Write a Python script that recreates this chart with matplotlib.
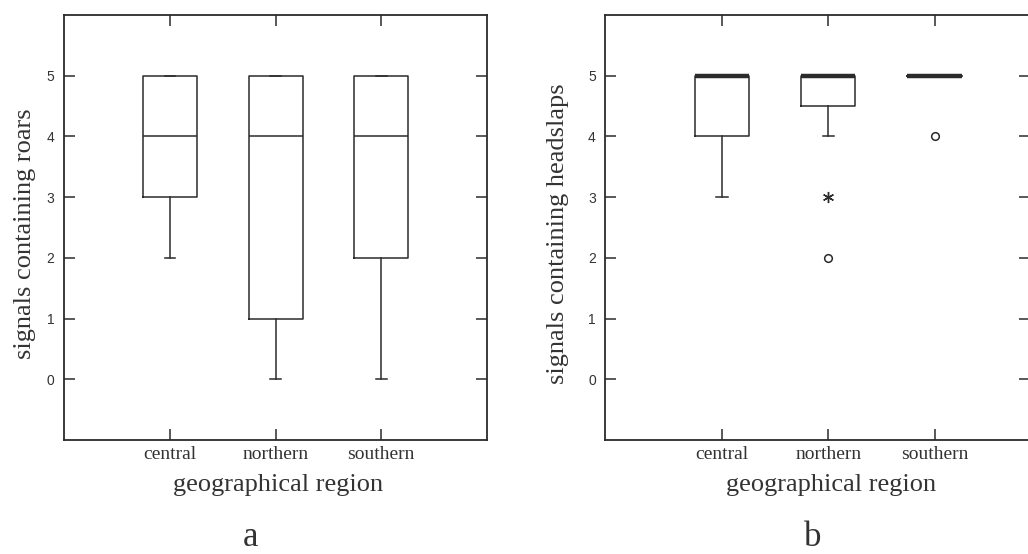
import matplotlib.pyplot as plt

regions = ['central', 'northern', 'southern']
positions = [1, 2, 3]

# panel a: signals containing roars
roars_whislo = [2, 0, 0]
roars_q1 = [3, 1, 2]
roars_med = [4, 4, 4]
roars_q3 = [5, 5, 5]
roars_whishi = [5, 5, 5]

# panel b: signals containing headslaps
slaps_whislo = [3, 4, 5]
slaps_q1 = [4, 4.5, 5]
slaps_med = [5, 5, 5]
slaps_q3 = [5, 5, 5]
slaps_whishi = [5, 5, 5]
slaps_outliers = [[], [2], [4]]
slaps_extremes = [[], [3], []]

ink = '#2b2b2b'
serif = ['Liberation Serif', 'DejaVu Serif']
sans = ['Liberation Sans', 'DejaVu Sans']


def make_stats(lo, q1, med, q3, hi):
    return [dict(whislo=a, q1=b, med=c, q3=d, whishi=e, fliers=[])
            for a, b, c, d, e in zip(lo, q1, med, q3, hi)]


def style_axes(ax, ylabel, xlim, label_x):
    ax.set_xlim(*xlim)
    ax.set_ylim(-1, 6)
    ax.set_xticks(positions)
    ax.set_xticklabels(regions, family=serif, fontsize=14, color='#333333')
    ax.set_yticks(range(6))
    ax.set_yticklabels([str(i) for i in range(6)], family=sans, fontsize=10,
                       color='#333333')
    ax.tick_params(axis='both', direction='in', length=8, width=1.1,
                   color=ink, top=True, right=True)
    ax.tick_params(axis='x', pad=4)
    ax.tick_params(axis='y', pad=7)
    for s in ax.spines.values():
        s.set_linewidth(1.3)
        s.set_color(ink)
    ax.set_ylabel(ylabel, family=serif, fontsize=19, color='#333333')
    ax.yaxis.set_label_coords(label_x, 0.486)
    ax.yaxis.label.set_va('center')
    ax.set_xlabel('geographical region', family=serif, fontsize=19,
                  color='#333333')
    ax.xaxis.label.set_va('center')


fig = plt.figure(figsize=(10.28, 5.54), dpi=100)
ax1 = fig.add_axes([0.0623, 0.2058, 0.4115, 0.767])
ax2 = fig.add_axes([0.589, 0.2058, 0.413, 0.767])

line = dict(color=ink, linewidth=1.1)

ax1.bxp(make_stats(roars_whislo, roars_q1, roars_med, roars_q3, roars_whishi),
        positions=positions, widths=0.51, capwidths=0.1, showfliers=False,
        boxprops=line, whiskerprops=line, capprops=line,
        medianprops=dict(color=ink, linewidth=1.1))
style_axes(ax1, 'signals containing roars', (0, 4), -0.092)
ax1.xaxis.set_label_coords(0.505, -0.106)

ax2.bxp(make_stats(slaps_whislo, slaps_q1, slaps_med, slaps_q3, slaps_whishi),
        positions=positions, widths=0.51, capwidths=0.11, showfliers=False,
        boxprops=line, whiskerprops=line, capprops=line,
        medianprops=dict(color=ink, linewidth=3.2, solid_capstyle='butt'))
# outliers as open circles, extremes as asterisks
for x, vals in zip(positions, slaps_outliers):
    if vals:
        ax2.plot([x] * len(vals), vals, 'o', ms=5.5, mfc='none', mec=ink,
                 mew=1.1)
for x, vals in zip(positions, slaps_extremes):
    if vals:
        ax2.plot([x] * len(vals), vals, marker=(6, 2, 0), ls='none', ms=8,
                 mec=ink, mew=1.0)
style_axes(ax2, 'signals containing headslaps', (-0.1, 3.9), -0.112)
ax2.xaxis.set_label_coords(0.531, -0.106)

fig.text(251 / 1028, 8 / 554, 'a', ha='center', va='baseline', family=serif,
         fontsize=25, color='#333333')
fig.text(813 / 1028, 8 / 554, 'b', ha='center', va='baseline', family=serif,
         fontsize=25, color='#333333')

fig.savefig('out.png', dpi=100, facecolor='white')
